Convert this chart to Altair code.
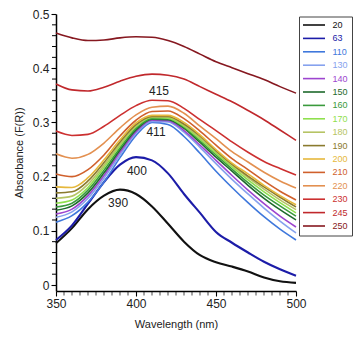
import altair as alt
import pandas as pd

wavelengths = [350, 360, 370, 380, 390, 400, 410, 420, 430, 440, 450, 460, 470, 480, 490, 500]

series_names = ["20", "63", "110", "130", "140", "150", "160", "170", "180", "190",
                "200", "210", "220", "230", "245", "250"]
series_colors = ["#111111", "#1c1ca8", "#3f78dc", "#86a2ee", "#9d45cf", "#1e6a2c",
                 "#3a9a3c", "#8fe04e", "#b6c464", "#8a7a2e", "#e6b83c", "#d0602c",
                 "#e39050", "#cc3030", "#c0282c", "#861820"]

a20 = [0.077, 0.105, 0.140, 0.165, 0.176, 0.168, 0.145, 0.113, 0.080, 0.055, 0.042, 0.034, 0.025, 0.014, 0.007, 0.004]
a63 = [0.083, 0.110, 0.150, 0.190, 0.222, 0.236, 0.230, 0.206, 0.168, 0.133, 0.098, 0.078, 0.060, 0.043, 0.029, 0.017]
a110 = [0.116, 0.128, 0.153, 0.190, 0.235, 0.276, 0.300, 0.296, 0.274, 0.243, 0.210, 0.180, 0.152, 0.126, 0.103, 0.083]
a130 = [0.125, 0.135, 0.160, 0.197, 0.240, 0.280, 0.302, 0.301, 0.282, 0.254, 0.224, 0.195, 0.168, 0.142, 0.118, 0.096]
a140 = [0.131, 0.140, 0.165, 0.202, 0.245, 0.283, 0.304, 0.303, 0.285, 0.258, 0.230, 0.202, 0.175, 0.150, 0.127, 0.107]
a150 = [0.138, 0.146, 0.170, 0.207, 0.249, 0.286, 0.306, 0.305, 0.289, 0.263, 0.236, 0.210, 0.184, 0.160, 0.139, 0.120]
a160 = [0.144, 0.151, 0.175, 0.212, 0.253, 0.289, 0.307, 0.307, 0.291, 0.266, 0.240, 0.214, 0.189, 0.166, 0.146, 0.127]
a170 = [0.151, 0.157, 0.180, 0.217, 0.257, 0.292, 0.309, 0.308, 0.293, 0.269, 0.243, 0.218, 0.194, 0.172, 0.152, 0.133]
a180 = [0.160, 0.164, 0.186, 0.221, 0.260, 0.294, 0.310, 0.310, 0.295, 0.272, 0.246, 0.221, 0.198, 0.177, 0.157, 0.139]
a190 = [0.170, 0.172, 0.192, 0.226, 0.264, 0.296, 0.311, 0.311, 0.297, 0.275, 0.248, 0.223, 0.201, 0.181, 0.162, 0.144]
a200 = [0.181, 0.180, 0.198, 0.231, 0.268, 0.299, 0.313, 0.313, 0.300, 0.277, 0.250, 0.225, 0.205, 0.184, 0.165, 0.148]
a210 = [0.205, 0.200, 0.213, 0.240, 0.275, 0.304, 0.320, 0.321, 0.307, 0.284, 0.258, 0.233, 0.213, 0.192, 0.173, 0.157]
a220 = [0.242, 0.234, 0.241, 0.262, 0.290, 0.314, 0.328, 0.330, 0.317, 0.293, 0.270, 0.246, 0.227, 0.208, 0.192, 0.179]
a230 = [0.284, 0.276, 0.278, 0.293, 0.313, 0.331, 0.341, 0.340, 0.326, 0.305, 0.285, 0.264, 0.245, 0.228, 0.215, 0.203]
a245 = [0.371, 0.360, 0.358, 0.365, 0.376, 0.385, 0.389, 0.387, 0.380, 0.366, 0.352, 0.338, 0.322, 0.305, 0.286, 0.267]
a250 = [0.465, 0.456, 0.451, 0.452, 0.456, 0.458, 0.457, 0.451, 0.440, 0.426, 0.412, 0.401, 0.390, 0.379, 0.366, 0.354]

all_series = [a20, a63, a110, a130, a140, a150, a160, a170, a180, a190,
              a200, a210, a220, a230, a245, a250]

peak_labels = ["390", "400", "411", "415"]
peak_x = [388.8, 400.6, 412.5, 414.4]
peak_y = [0.151, 0.210, 0.282, 0.358]

x_major = [350, 400, 450, 500]
x_minor = [v for v in range(355, 500, 5) if v % 50 != 0]
y_major = [0, 0.1, 0.2, 0.3, 0.4, 0.5]
y_minor = [round(v * 0.02, 2) for v in range(1, 25) if v % 5 != 0]

X_MIN, X_MAX = 350, 500
Y_MIN, Y_MAX = -0.011, 0.5

rows = []
for name, vals in zip(series_names, all_series):
    for w, v in zip(wavelengths, vals):
        rows.append({"wl": w, "a": v, "s": name})
df = pd.DataFrame(rows)
ann = pd.DataFrame({"wl": peak_x, "a": peak_y, "t": peak_labels})
xminor_df = pd.DataFrame({"wl": x_minor})
yminor_df = pd.DataFrame({"a": y_minor})

FONT = "Liberation Sans"
xs = alt.Scale(domain=[X_MIN, X_MAX], nice=False, zero=False)
ys = alt.Scale(domain=[Y_MIN, Y_MAX], nice=False, zero=False)

color = alt.Color(
    "s:N",
    scale=alt.Scale(domain=series_names, range=series_colors),
    legend=alt.Legend(
        title=None,
        orient="none",
        legendX=243,
        legendY=2.5,
        direction="vertical",
        symbolType="M-3.667,0H3.667",
        symbolSize=36,
        symbolStrokeWidth=1.6,
        symbolFillColor="transparent",
        symbolOffset=6.5,
        labelOffset=14,
        labelFontSize=9,
        labelFont=FONT,
        labelColor=alt.ExprRef("scale('color', datum.value)"),
        rowPadding=3.4,
        padding=4,
        strokeColor="#444444",
        fillColor="white",
    ),
)

x_axis = alt.Axis(values=x_major, title="Wavelength (nm)", grid=False,
                  labelFlush=False, tickSize=5,
                  tickWidth=1.1, domainWidth=1.5, domainColor="black",
                  tickColor="black", labelFontSize=12, labelFont=FONT,
                  labelColor="#222222", labelPadding=2, titleFont=FONT,
                  titleFontSize=11, titleFontWeight="normal", titleColor="#222222",
                  titlePadding=9, orient="bottom")
y_axis = alt.Axis(values=y_major, format="~g", title="Absorbance (F(R))", grid=False,
                  labelFlush=False, tickSize=5,
                  tickWidth=1.1, domainWidth=1.5, domainColor="black",
                  tickColor="black", labelFontSize=12, labelFont=FONT,
                  labelColor="#222222", labelPadding=2, titleFont=FONT,
                  titleFontSize=11, titleFontWeight="normal", titleColor="#222222",
                  titlePadding=8, orient="left")

lines = alt.Chart(df).mark_line(interpolate="monotone").encode(
    x=alt.X("wl:Q", scale=xs, axis=x_axis),
    y=alt.Y("a:Q", scale=ys, axis=y_axis),
    color=color,
    strokeWidth=alt.condition(
        alt.FieldOneOfPredicate(field="s", oneOf=["20", "63"]),
        alt.value(2.1), alt.value(1.6)),
    order=alt.Order("wl:Q"),
)

# minor ticks along the axes (short, outward)
xminor = alt.Chart(xminor_df).mark_tick(
    orient="vertical", size=4, thickness=1, color="black", yOffset=2.5
).encode(
    x=alt.X("wl:Q", scale=xs, axis=x_axis),
    y=alt.YDatum(Y_MIN, scale=ys, axis=y_axis),
)

yminor = alt.Chart(yminor_df).mark_rule(
    color="black", strokeWidth=1, xOffset=-4, x2Offset=0
).encode(
    x=alt.XDatum(X_MIN, scale=xs, axis=x_axis),
    x2=alt.X2Datum(X_MIN),
    y=alt.Y("a:Q", scale=ys, axis=y_axis),
)

texts = alt.Chart(ann).mark_text(fontSize=12, font=FONT, color="#222222").encode(
    x=alt.X("wl:Q", scale=xs, axis=x_axis),
    y=alt.Y("a:Q", scale=ys, axis=y_axis),
    text="t:N",
)

chart = alt.layer(lines, xminor, yminor, texts).properties(
    width=240,
    height=277,
    autosize=alt.AutoSizeParams(type="none"),
    padding={"left": 56, "top": 14, "right": 63, "bottom": 49},
    background="white",
).configure_view(stroke=None)

chart.save("out.html", embed_options={"renderer": "svg", "actions": False})
